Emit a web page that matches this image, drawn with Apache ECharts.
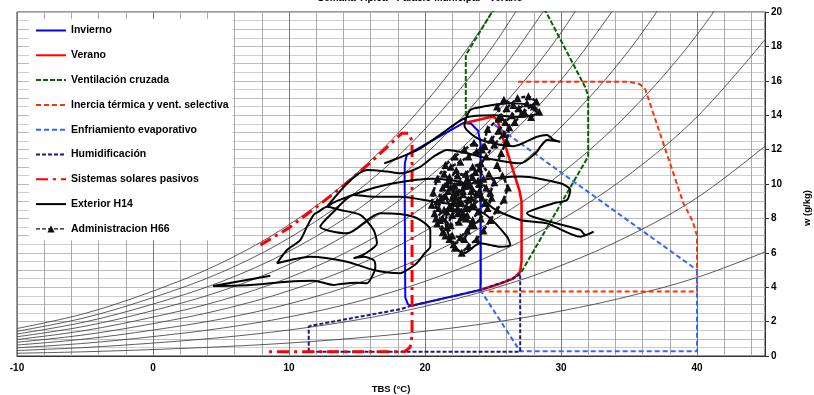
<!DOCTYPE html>
<html><head><meta charset="utf-8">
<script src="https://cdn.jsdelivr.net/npm/echarts@6/dist/echarts.min.js"></script>
<style>html,body{margin:0;padding:0;background:#fff}#c{width:814px;height:395px}</style>
</head><body><div id="c"></div>
<script>
// Temperatures (°C) at which the relative-humidity curves are read
const temps = [-10,-5,0,5,10,15,20,25,30,35,40,45];
// Humidity ratio w (g/kg) of each RH curve read at those temperatures
const rh10  = [0.160,0.247,0.376,0.537,0.755,1.049,1.439,1.952,2.618,3.474,4.566,6.05];
const rh20  = [0.320,0.494,0.753,1.074,1.512,2.101,2.885,3.916,5.258,6.988,9.200,12.2];
const rh30  = [0.479,0.741,1.130,1.612,2.271,3.157,4.338,5.893,7.920,10.541,13.903,18.4];
const rh40  = [0.639,0.988,1.508,2.150,3.031,4.217,5.797,7.882,10.605,14.135,18.677,24.486];
const rh50  = [0.799,1.236,1.882,2.690,3.793,5.280,7.264,9.884,13.313,17.770,23.522];
const rh60  = [0.959,1.484,2.262,3.230,4.557,6.347,8.737,11.898,16.045,21.446];
const rh70  = [1.119,1.732,2.641,3.772,5.323,7.417,10.217,13.925,18.800,25.165];
const rh80  = [1.279,1.980,3.019,4.314,6.090,8.491,11.704,15.966,21.579];
const rh90  = [1.439,2.228,3.398,4.858,6.860,9.569,13.198,18.020,24.382];
const rh100 = [1.600,2.476,3.775,5.403,7.632,10.650,14.699,20.086,27.210];

// Bioclimatic zones [TBS, w]
const invierno = [[18.5,10.6],[18.55,3.4],[18.75,3.0],[19.0,2.92],[24.07,3.84],[24.1,4.2],[24.1,12.3],[23.9,13.1],[23.4,13.5],[22.84,13.55],[18.66,11.69],[18.52,11.2],[18.5,10.6]];
const verano = [[24.07,3.84],[25.5,4.2],[26.5,4.5],[27.0,4.9],[27.1,5.5],[27.1,9.0],[26.95,9.6],[25.3,13.75],[25.0,13.92],[22.84,13.53]];
const ventilacion = [[23.0,13.55],[23.0,17.5],[24.93,20.0],[27.0,21.5],[28.9,20.0],[31.8,15.6],[32.0,15.1],[32.0,11.6],[27.1,4.9]];
const inercia = [[26.85,15.95],[35.0,15.95],[35.8,15.8],[36.2,15.5],[38.99,8.9],[39.7,7.8],[40.0,7.0],[40.0,3.75],[24.5,3.75]];
const enfriamiento = [[25.1,13.45],[40.0,5.0],[40.0,0.27],[27.0,0.27],[24.07,3.84]];
const humidificacion = [[11.45,0.25],[11.45,1.7],[11.6,1.76],[18.18,2.72],[18.9,2.9],[24.07,3.84],[25.8,4.3],[26.8,4.65],[27.0,4.8],[27.0,0.25],[11.45,0.25]];
const solares = [[7.9,6.45],[10,7.45],[12,8.65],[14,9.9],[16,11.25],[18.3,12.95],[18.8,12.95],[19.05,12.5],[19.05,1.2],[18.9,0.5],[18.5,0.25],[8.3,0.25]];

// Measured conditions
const exteriorH14 = [
[8.63,4.67],[4.41,4.07],[7.15,4.13],[9.85,4.32],[11.8,4.38],[13.28,4.13],[13.77,4.19],[15.0,4.26],[15.74,4.23],[16.1,4.61],[16.35,5.19],[16.22,5.58],[15.49,5.77],[14.75,5.68],
[15.6,5.95],[16.47,6.55],[16.22,7.33],[15.24,8.2],[13.77,8.49],[12.79,8.68],[12.18,8.39],[11.81,8.2],[11.32,7.52],[10.83,6.74],[9.85,6.16],[9.12,5.39],[11.57,5.77],[14.26,5.48],[16.22,5.0],[18.18,4.81],[18.68,5.0],[19.4,5.4],[20.0,6.0],
[20.39,6.35],[20.39,7.33],[19.16,8.1],[16.7,8.3],[14.26,7.13],[12.3,7.52],[13.28,8.39],[14.75,9.36],[16.22,9.26],[18.18,9.26],[20.63,8.97],[23.09,8.68],[24.5,8.2],[26.03,6.94],[26.27,6.45],[25.54,6.35],[24.07,6.55],[22.84,5.97],[22.0,6.6],[21.5,7.8],[22.5,9.5],[24.0,10.2],[27.01,10.43],[29.95,10.04],[30.68,9.65],[30.44,9.07],[29.46,8.88],[27.5,8.3],[31.42,7.33],[31.79,7.03],[32.4,7.23],[31.42,6.94],[28.97,7.71],[27.01,7.91],[25.0,8.6],[23.0,10.0],[20.5,10.3],[17.69,10.04],[15.74,9.65],[13.5,9.0],[12.79,8.68],
[14.5,10.2],[15.74,10.81],[17.21,10.72],[18.18,10.62],[19.65,11.0],[20.63,11.59],[21.62,11.98],[23.09,11.79],[24.5,11.5],[27.01,11.2],[28.24,11.88],[28.48,12.17],[28.97,12.56],[29.95,12.46],[29.46,12.56],[28.97,12.85],[28.24,12.75],[26.5,12.2],[24.0,12.6],[22.9,13.4],[23.33,14.3],[24.3,14.5],[26.27,14.69],[27.5,14.6],[28.24,14.11],[27.0,13.9],[25.05,13.99],[23.0,13.85],[21.0,12.8],[19.5,12.0],[18.0,11.5],[17.0,11.2]
];
const administracionH66 = [
[22.5,9.0],[22.8,9.4],[23.2,9.1],[23.0,8.6],[22.4,8.3],[21.8,8.7],[21.5,9.3],[21.9,9.8],[22.6,10.1],[23.3,9.9],[23.8,9.4],[23.6,8.8],[23.1,8.2],[22.5,7.8],[21.9,7.6],[21.3,8.0],[21.0,8.6],[21.2,9.2],[21.7,9.6],[22.3,9.5],
[22.9,9.9],[23.5,10.4],[24.0,10.9],[24.3,10.3],[24.0,9.6],[23.4,9.2],[22.7,8.9],[22.0,8.2],[21.6,7.5],[22.0,7.0],[22.6,6.9],[23.1,7.3],[23.5,7.9],[23.9,8.4],[24.4,8.9],[24.8,9.5],[25.1,10.1],[24.7,10.6],[24.1,11.2],[23.5,11.0],
[23.0,10.6],[22.4,10.5],[21.8,10.2],[21.4,10.6],[21.9,11.0],[22.6,11.3],[23.2,11.6],[23.8,11.9],[24.4,12.2],[24.9,12.6],[25.4,13.1],[25.9,13.6],[26.4,14.0],[26.9,14.4],[27.5,14.7],[28.0,14.5],[28.4,14.2],[27.8,13.9],[27.1,14.1],[26.5,14.6],
[25.8,14.9],[25.3,14.5],[25.6,13.9],[26.2,13.3],[26.0,12.5],[25.6,11.8],[25.3,11.1],[25.7,10.5],[26.1,9.8],[25.8,9.1],[25.3,8.5],[24.8,7.9],[24.3,7.3],[23.8,6.8],[23.2,6.4],[22.7,6.0],[22.2,6.3],[21.8,6.8],[21.3,7.2],[20.9,7.7],
[20.7,8.3],[20.9,9.0],[21.3,9.8],[21.8,10.4],[22.2,9.9],[22.0,9.2],[22.4,8.6],[23.0,8.0],[23.6,7.6],[24.1,8.0],[24.6,8.6],[24.9,9.2],[24.5,9.8],[23.9,10.2],[23.3,10.0],[22.8,9.6],
[22.2,8.9],[21.6,8.4],[21.1,7.9],[21.5,7.0],[22.1,6.5],[22.9,6.8],[23.4,7.6],[22.8,8.3],[22.1,9.4],[21.6,10.0],[22.3,10.8],[23.1,10.3],[23.7,10.7],[24.5,11.6],[25.1,12.3],[25.8,12.9],[26.6,13.6],[27.3,14.2],[28.2,14.8],[27.6,15.1],
[26.8,15.0],[26.0,14.4],[25.4,13.8],[24.6,13.2],[24.2,12.0],[23.6,12.4],[22.9,12.0],[22.2,11.6],[21.5,11.1],[20.9,10.3],[20.6,9.5],[20.5,8.8],[20.8,8.0],[21.4,8.5],[22.0,8.6],[22.7,8.1],[23.4,8.7],[24.2,9.2],[24.0,10.0],[23.4,9.6]
];

const titleText = 'Semana Típica - Palacio Municipal - Verano';
const xName = 'TBS (°C)';
const yName = 'w (g/kg)';
const legendNames = ['Invierno','Verano','Ventilación cruzada','Inercia térmica y vent. selectiva','Enfriamiento evaporativo','Humidificación','Sistemas solares pasivos','Exterior H14','Administracion H66'];

const FONT = '"Liberation Sans", Arial, sans-serif';
const chart = echarts.init(document.getElementById('c'), null, {renderer:'canvas'});

const series = [];
[rh10,rh20,rh30,rh40,rh50,rh60,rh70,rh80,rh90,rh100].forEach(function(arr){
  series.push({type:'line', data: arr.map(function(w,i){return [temps[i], w];}), symbol:'none', smooth:0.35,
    silent:true, z:1, lineStyle:{color:'#333', width:0.8}});
});
function zone(name, data, color, width, type){
  return {name:name, type:'line', data:data, symbol:'none', z:3, silent:true,
    lineStyle:{color:color, width:width, type:type}, itemStyle:{color:color}};
}
series.push(zone(legendNames[0], invierno, '#0000ff', 2, 'solid'));
series.push(zone(legendNames[1], verano, '#ff0000', 2.6, 'solid'));
series.push(zone(legendNames[2], ventilacion, '#006400', 2, [5,2]));
series.push(zone(legendNames[3], inercia, '#ff3300', 2, [5,3]));
series.push(zone(legendNames[4], enfriamiento, '#3366ff', 2, [5,3]));
series.push(zone(legendNames[5], humidificacion, '#1a1a80', 2, [4,2]));
series.push(zone(legendNames[6], solares, '#ff0000', 3, [12,5,3,5]));
series.push({name:legendNames[7], type:'line', data:exteriorH14, symbol:'none', smooth:0.25, z:5, silent:true,
  lineStyle:{color:'#000', width:2}, itemStyle:{color:'#000'}});
series.push({name:legendNames[8], type:'line', data:administracionH66, symbol:'triangle', symbolSize:8, showSymbol:true, z:6, silent:true,
  lineStyle:{color:'#111122', width:2.4, type:[4,2]}, itemStyle:{color:'#111'}});

const legendData = legendNames.map(function(n, i){
  return i === 8 ? {name:n, itemStyle:{opacity:1}, lineStyle:{width:1.2}} : {name:n};
});

const xSplitColors = ['#777','#aaa','#aaa','#aaa','#aaa'];
const ySplitColors = ['#bbb','#cfcfcf'];

chart.setOption({
  animation:false,
  backgroundColor:'#fff',
  grid:{left:17, right:49, top:12, bottom:39, show:true, borderColor:'#333', borderWidth:1, backgroundColor:'transparent',
    outerBoundsMode:'none', containLabel:false},
  legend:{data:legendData, orient:'vertical', left:29, top:19, padding:[6,4,6,6], itemGap:13.8,
    itemWidth:30, itemHeight:9, backgroundColor:'#fff', selectedMode:false,
    itemStyle:{opacity:0},
    textStyle:{fontFamily:FONT, fontSize:10.5, fontWeight:'bold', color:'#000'}},
  xAxis:{type:'value', min:-10, max:45, interval:2,
    axisLine:{show:true, lineStyle:{color:'#333', width:1}}, axisTick:{show:false},
    axisLabel:{interval:0, margin:7, color:'#000', fontFamily:FONT, fontSize:10, fontWeight:'bold',
      formatter:function(v){return (v%10===0 && v<45) ? String(v) : '';}},
    splitLine:{show:true, lineStyle:{color:xSplitColors, width:1}},
    name:xName, nameLocation:'middle', nameGap:28,
    nameTextStyle:{fontFamily:FONT, fontSize:9.5, fontWeight:'bold', color:'#000'}},
  yAxis:[
    {type:'value', position:'right', min:0, max:20, interval:0.5,
      axisLine:{show:false}, axisTick:{show:false}, axisLabel:{show:false},
      splitLine:{show:true, lineStyle:{color:ySplitColors, width:1}}},
    {type:'value', position:'right', min:0, max:20, interval:2,
      axisLine:{show:true, lineStyle:{color:'#333', width:1}},
      axisTick:{show:true, length:4, lineStyle:{color:'#333'}},
      axisLabel:{margin:6, color:'#000', fontFamily:FONT, fontSize:10, fontWeight:'bold'},
      splitLine:{show:false}}
  ],
  graphic:[
    {type:'text', x:420, y:-2, style:{text:titleText, align:'center', verticalAlign:'middle', font:'bold 10px ' + FONT, fill:'#000'}},
    {type:'text', x:807, y:208, rotation:Math.PI/2, style:{text:yName, align:'center', verticalAlign:'middle', font:'bold 9.5px ' + FONT, fill:'#000'}}
  ],
  series:series
});
</script>
</body></html>
